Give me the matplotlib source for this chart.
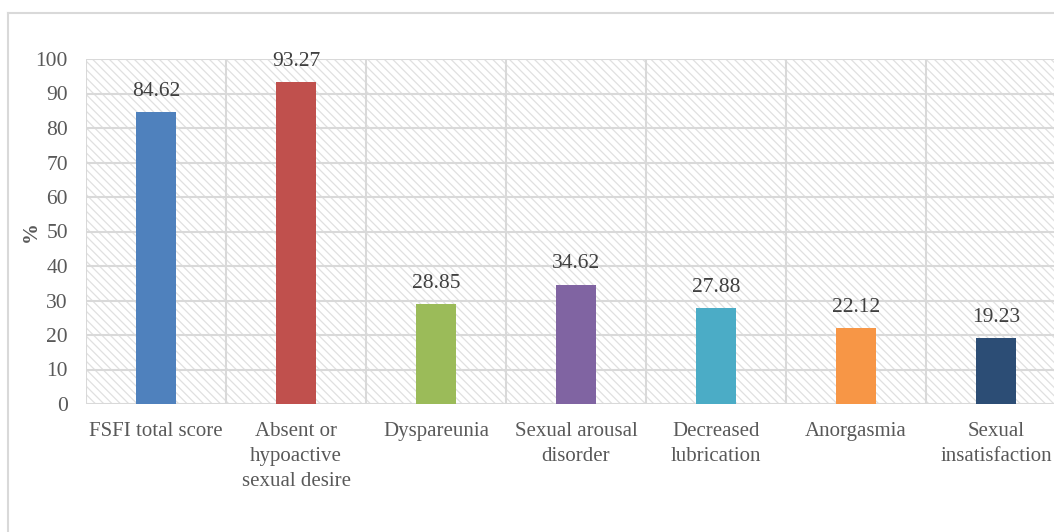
import matplotlib
matplotlib.use("Agg")
import matplotlib.pyplot as plt
from matplotlib.patches import Rectangle
from matplotlib.lines import Line2D

categories = ["FSFI total score", "Absent or\nhypoactive\nsexual desire", "Dyspareunia",
              "Sexual arousal\ndisorder", "Decreased\nlubrication", "Anorgasmia",
              "Sexual\ninsatisfaction"]
values = [84.62, 93.27, 28.85, 34.62, 27.88, 22.12, 19.23]
colors = ["#4f81bd", "#c0504d", "#9bbb59", "#8064a2", "#4bacc6", "#f79646", "#2c4d75"]
yticks = list(range(0, 101, 10))

plt.rcParams["font.family"] = ["Liberation Serif", "DejaVu Serif"]
plt.rcParams["hatch.linewidth"] = 0.9

W, H = 1054, 532
fig = plt.figure(figsize=(W / 100, H / 100), dpi=100)
fig.patch.set_facecolor("white")

# outer chart frame (left and top edges visible)
fig.add_artist(Line2D([8 / W, 8 / W], [0, 1 - 13 / H], color="#d9d9d9", lw=1.5,
                      transform=fig.transFigure))
fig.add_artist(Line2D([8 / W, 1.0], [1 - 13 / H, 1 - 13 / H], color="#d9d9d9", lw=1.5,
                      transform=fig.transFigure))

left, right = 86 / W, 1066 / W
bottom, top = (H - 404) / H, (H - 59) / H
ax = fig.add_axes([left, bottom, right - left, top - bottom])
ax.set_facecolor("white")

# hatched background of the plot area
ax.add_patch(Rectangle((0, 0), 1, 1, transform=ax.transAxes, fill=False,
                       hatch="\\" * 4, edgecolor="#e0e0e0", lw=0, zorder=0))

x = list(range(len(categories)))
ax.bar(x, values, width=0.28, color=colors, zorder=3)

for xi, v in zip(x, values):
    ax.annotate(f"{v:.2f}", (xi, v), xytext=(0, 8), textcoords="offset points",
                ha="center", va="bottom", fontsize=15.5, color="#404040", zorder=4)

ax.set_xlim(-0.5, len(categories) - 0.5)
ax.set_ylim(0, 100)
ax.set_yticks(yticks)
ax.set_yticklabels([str(t) for t in yticks], fontsize=15.5, color="#595959")
ax.set_xticks(x)
ax.set_xticklabels(categories, fontsize=15, color="#595959", linespacing=1.42)
ax.tick_params(axis="both", length=0)
ax.tick_params(axis="y", pad=13)
ax.tick_params(axis="x", pad=13)

# grid: horizontal every 10, vertical at category boundaries
for t in yticks:
    ax.axhline(t, color="#d9d9d9", lw=1.5, zorder=1)
for b in range(len(categories) + 1):
    ax.axvline(b - 0.5, color="#d9d9d9", lw=1.5, zorder=1)

for s in ax.spines.values():
    s.set_visible(False)

ax.set_ylabel("%", fontsize=15, fontweight="bold", color="#595959")
ax.yaxis.set_label_coords(-0.046, 0.5)

fig.savefig("out.png", dpi=100)
